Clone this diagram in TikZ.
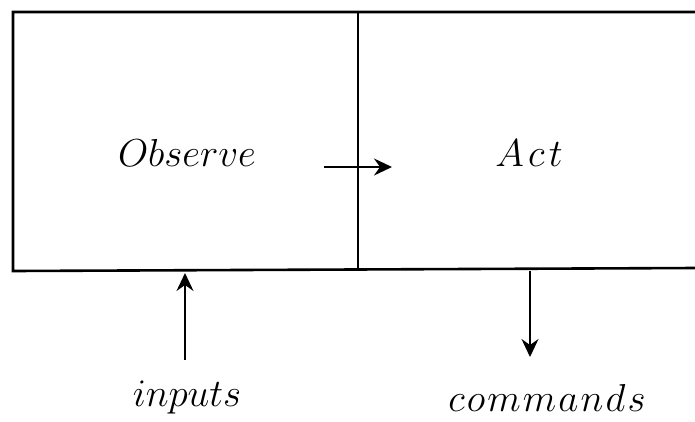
\documentclass[tikz,border=0pt]{standalone}
\usepackage{graphicx}
\usetikzlibrary{arrows.meta}
\newcommand{\biglbl}[1]{\scalebox{1.567}{\fontsize{24.88}{30}\selectfont$#1$}}
\begin{document}
\begin{tikzpicture}[x=1pt,y=-1pt,
  boxline/.style={line width=2.6pt},
  arr/.style={line width=1.8pt,-{Stealth[length=18pt,width=17pt,inset=6pt]}},
  lbl/.style={inner sep=0pt}]
\useasboundingbox (0,0) rectangle (695,421);
\coordinate (tl) at (13,12);
\coordinate (bl) at (13,271);
\coordinate (tr) at (695,12);
\coordinate (br) at (695,268);
\coordinate (mt) at (358,12);
\coordinate (mb) at (358,270);
\draw[boxline] (tr) -- (tl) -- (bl) -- (br);
\draw[line width=2pt] (mt) -- (mb);
\node[lbl] (obs) at (187,153) {\biglbl{Observe}};
\node[lbl] (act) at (529,153) {\biglbl{A\mkern2mu c\mkern2mu t}};
\node[lbl] (inp) at (187,398) {\biglbl{inputs}};
\node[lbl] (cmd) at (547,398) {\biglbl{c\mkern1mu o\mkern1mu m\mkern1mu m\mkern1mu a\mkern1mu n\mkern1mu d\mkern1mu s}};
\coordinate (a1) at (324,167);
\coordinate (a2) at (392,167);
\draw[arr] (a1) -- (a2);
\coordinate (i1) at (185,360);
\coordinate (i2) at (185,273);
\draw[arr] (i1) -- (i2);
\coordinate (c1) at (530,271);
\coordinate (c2) at (530,357);
\draw[arr] (c1) -- (c2);
\end{tikzpicture}
\end{document}
